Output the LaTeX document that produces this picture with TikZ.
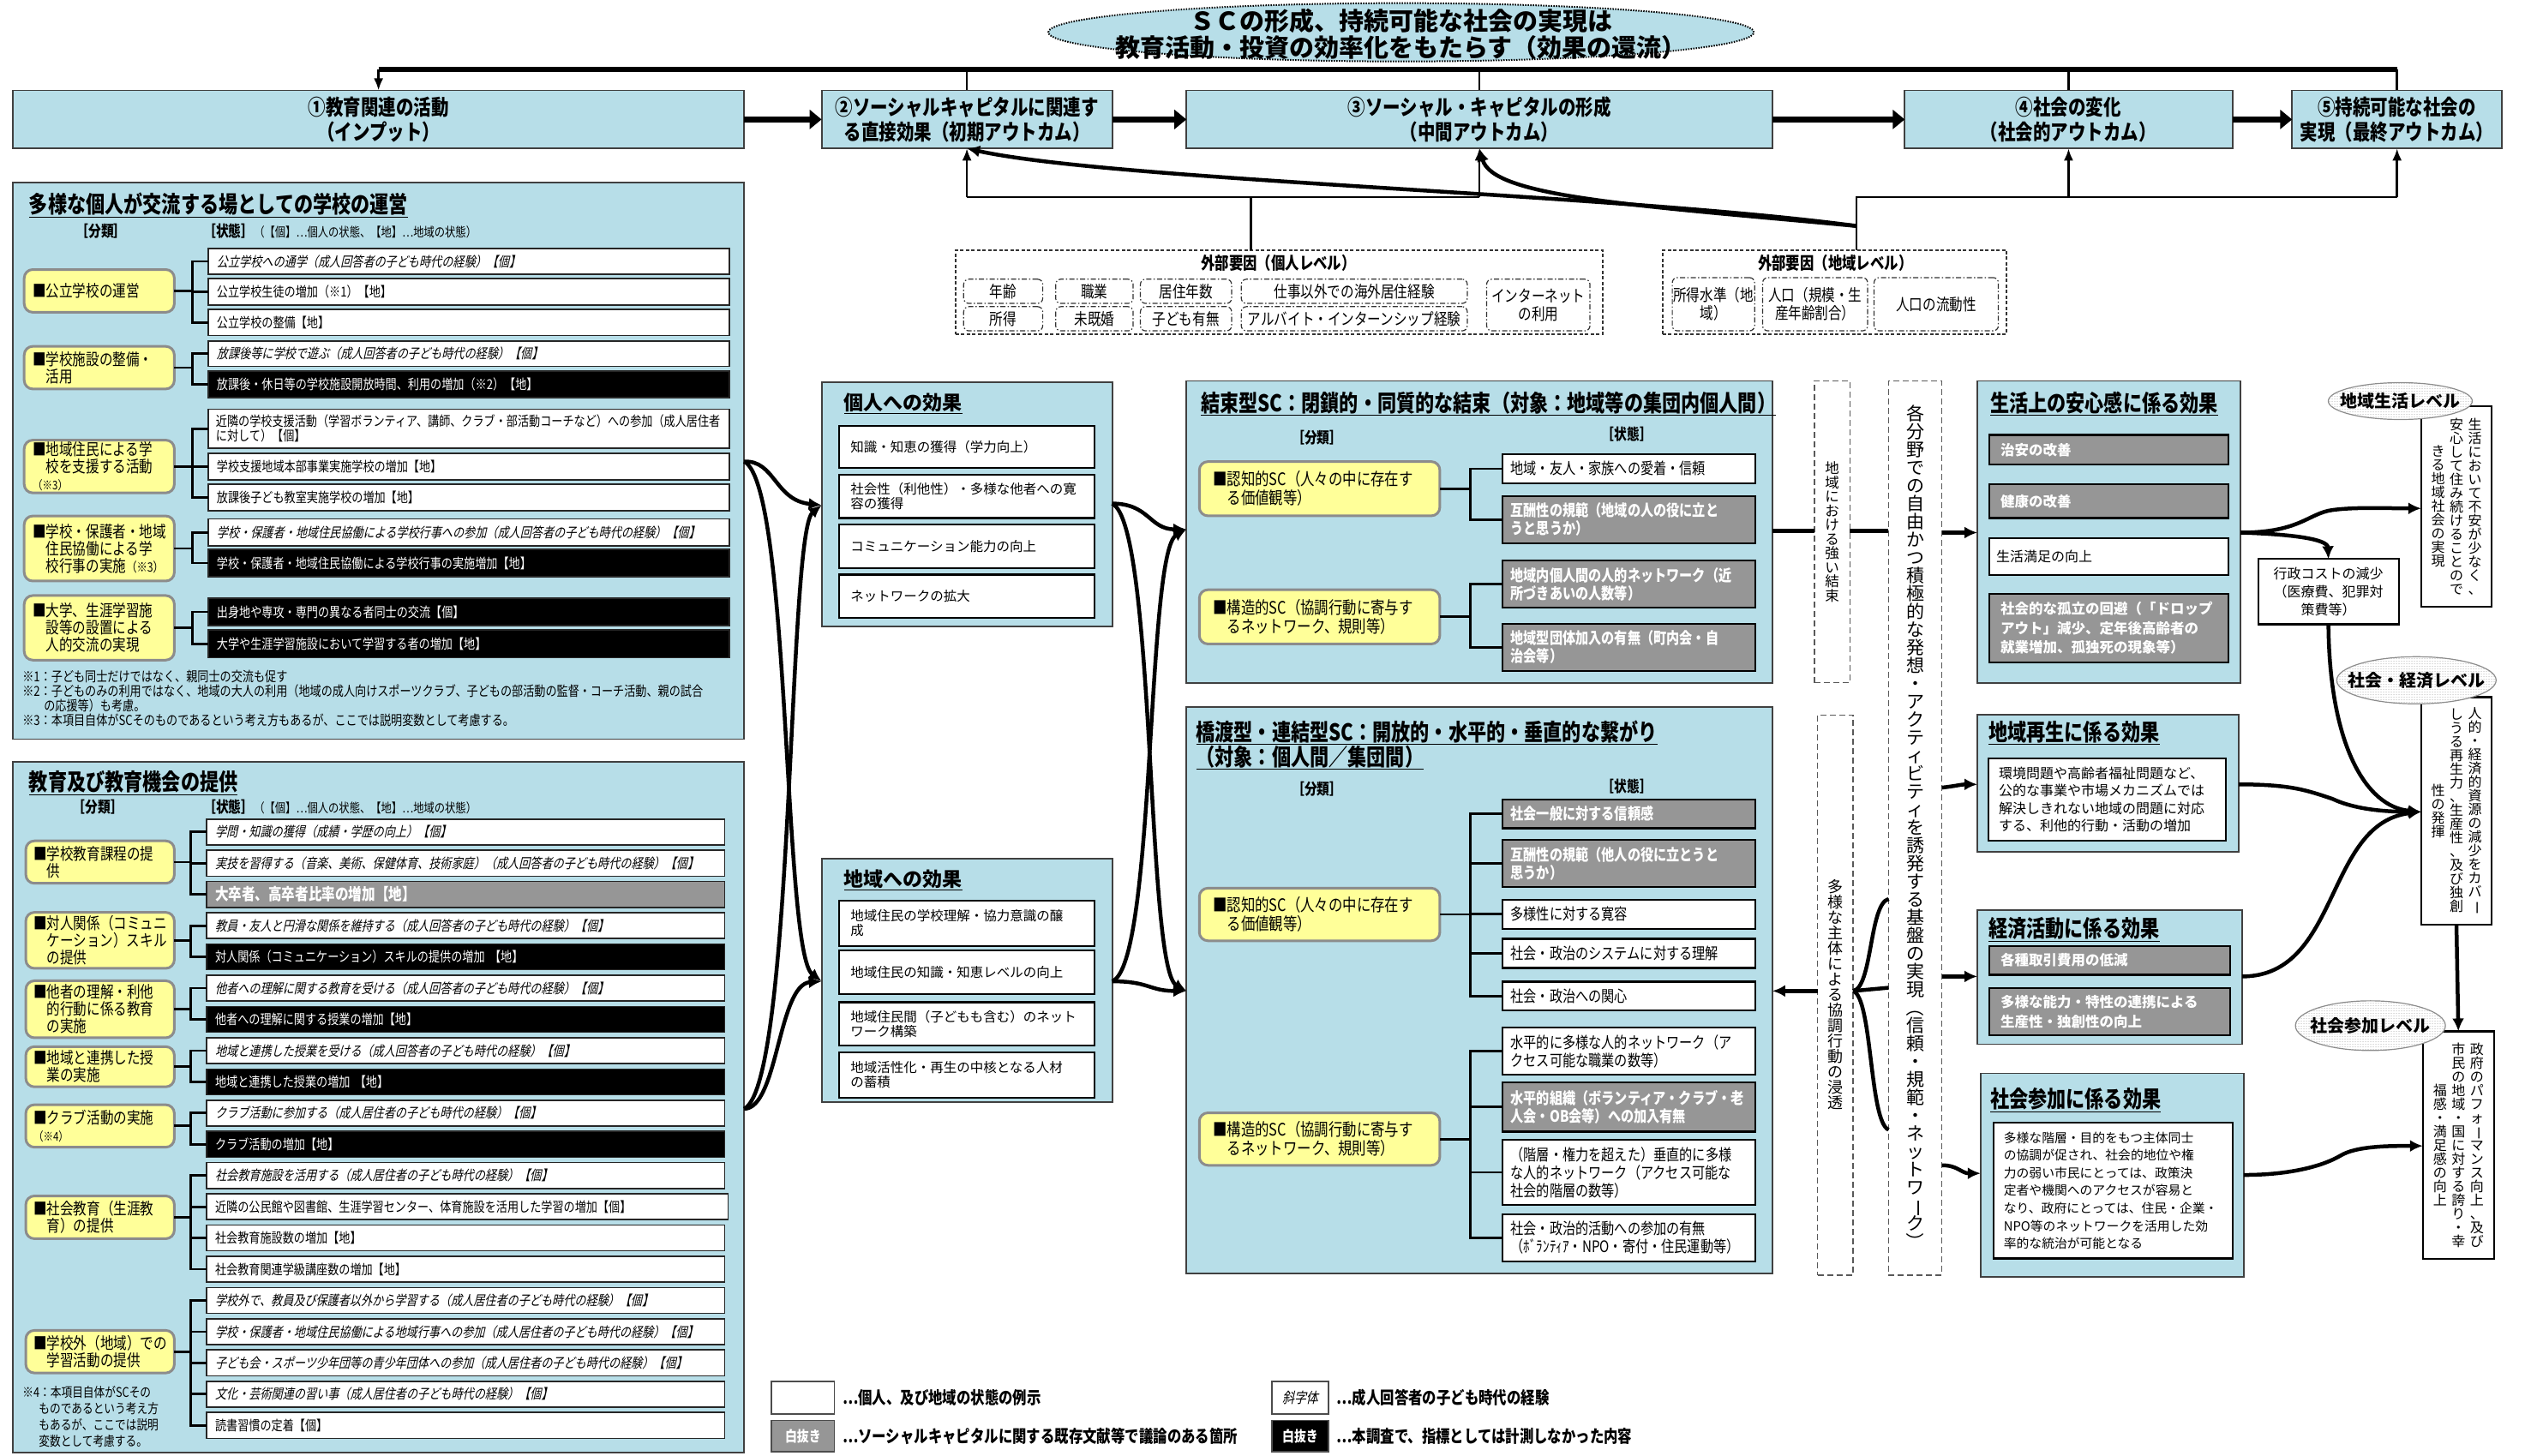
\documentclass[tikz,border=0pt]{standalone}
\usepackage{fontspec}
\usepackage{graphicx}
\setmainfont{Noto Sans CJK JP}
\newfontfamily\nar{Noto Sans CJK JP}[FakeStretch=0.82,AutoFakeSlant=0.22]
\newfontfamily\wid{Noto Sans CJK JP}[AutoFakeSlant=0.22]
\usetikzlibrary{arrows.meta,shapes.geometric,patterns}
\definecolor{pblue}{RGB}{183,222,232}
\definecolor{cyel}{RGB}{255,255,153}
\definecolor{gfill}{RGB}{150,150,150}
\newcommand\fz[2]{\fontsize{#1}{#2}\selectfont}
\ExplSyntaxOn
\cs_new_protected:Npn \my_vch:n #1
 {
  \str_case:nnF {#1}
   {
    {ー}{\rotatebox[origin=c]{-90}{ー}}
    {（}{\rotatebox[origin=c]{-90}{（}}
    {）}{\rotatebox[origin=c]{-90}{）}}
    {「}{\rotatebox[origin=c]{-90}{「}}
    {」}{\rotatebox[origin=c]{-90}{」}}
   }
   {#1}
 }
\NewDocumentCommand\vt{m}
 {
  \vbox
   {
    \baselineskip=1em \lineskip=0pt \lineskiplimit=-100pt
    \tl_map_inline:nn {#1} { \hbox~to~1em { \hss \my_vch:n {##1} \hss } }
   }
 }
\ExplSyntaxOff
\newcommand\bxc[7]{%
 \pgfmathsetmacro\bxw{(#5-#3)*1.8833}%
 \pgfmathsetmacro\bxh{(#6-#4)*1.8833}%
 \node[#2, anchor=north west, minimum width=\bxw pt, minimum height=\bxh pt, align=center] (#1) at (#3,#4) {#7};}
\newcommand\bxl[8][8]{%
 \pgfmathsetmacro\bxw{(#6-#4)*1.8833}%
 \pgfmathsetmacro\bxh{(#7-#5)*1.8833}%
 \pgfmathsetmacro\bxt{\bxw-2*#1}%
 \node[#3, anchor=north west, inner xsep=#1pt, inner ysep=0pt, minimum width=\bxw pt, minimum height=\bxh pt, text width=\bxt pt, align=left] (#2) at (#4,#5) {#8};}
\tikzset{
 every node/.style={inner sep=0pt, outer sep=0pt},
 panel/.style={draw=black!75, fill=pblue, line width=1.8pt},
 ptitle/.style={anchor=west, font=\nar\bfseries\fz{27}{29}},
 mtitle/.style={anchor=west, font=\wid\bfseries\fz{23}{26}},
 hd/.style={font=\nar\bfseries\fz{18}{20}},
 topbox/.style={panel, font=\nar\bfseries\fz{25}{29}},
 catb/.style={draw=black!45, fill=cyel, rounded corners=10pt, line width=3pt, font=\nar\fz{19}{20}},
 catc/.style={draw=black!45, fill=cyel, rounded corners=10pt, line width=3pt, font=\nar\fz{20}{22}},
 sw/.style={draw=black!85, fill=white, line width=1.6pt, font=\nar\fz{16}{17.5}},
 si/.style={sw, font=\nar\itshape\fz{16}{17.5}},
 sb/.style={draw=black!85, fill=black, text=white, line width=1.6pt, font=\nar\fz{16}{17.5}},
 sg/.style={draw=black!85, fill=gfill, text=white, line width=1.6pt, font=\nar\bfseries\fz{19}{21}},
 scw/.style={draw=black, fill=white, line width=2.2pt, font=\nar\fz{18.5}{21}},
 scg/.style={draw=black, fill=gfill, text=white, line width=2.2pt, font=\nar\bfseries\fz{18.5}{21}},
 mw/.style={draw=black, fill=white, line width=2.2pt, font=\wid\fz{15.5}{16.5}},
 rw/.style={draw=black, fill=white, line width=2.2pt, font=\wid\fz{16}{20.5}},
 rwp/.style={draw=black, fill=white, line width=2.2pt, font=\wid\fz{14.8}{20.6}},
 rwc/.style={draw=black, fill=white, line width=2.2pt, font=\wid\fz{16}{21}},
 rg/.style={draw=black, fill=gfill, text=white, line width=2.2pt, font=\wid\bfseries\fz{16.5}{22.5}},
 vbox/.style={draw=black, fill=white, line width=2.2pt},
 dsh/.style={draw=black!65, dash pattern=on 7pt off 4pt, line width=1.5pt},
 exo/.style={draw=black!80, dash pattern=on 4pt off 2.5pt, line width=1.4pt},
 exbox/.style={draw=black!80, dash pattern=on 6pt off 2.5pt on 1.5pt off 2.5pt, line width=1.2pt, rounded corners=6pt, font=\nar\fz{19}{21}},
 brk/.style={line width=2.8pt},
 cln/.style={line width=4.5pt},
 carr/.style={line width=4.5pt, -{Latex[length=15pt,width=14pt]}},
 bigarr/.style={line width=7pt, -{Triangle[length=14pt,width=22pt]}},
 vln/.style={line width=2.5pt},
 varr/.style={line width=2.5pt, -{Latex[length=14pt,width=11pt]}},
 hln/.style={line width=6pt},
 lvl/.style={ellipse, draw=black!45, line width=1.2pt, preaction={fill=white}, pattern=dots, pattern color=black!40},
 lvt/.style={font=\wid\bfseries\fz{20}{22}},
 lgt/.style={anchor=west, font=\nar\bfseries\fz{20}{22}},
 lgw/.style={draw=black!70, fill=white, line width=1.5pt, font=\nar\fz{17}{19}},
 lgg/.style={draw=black!70, fill=gfill, text=white, line width=1.5pt, font=\nar\bfseries\fz{17}{19}},
 lgb/.style={draw=black!70, fill=black, text=white, line width=1.5pt, font=\nar\bfseries\fz{17}{19}},
 vtx/.style={font=\wid\fz{16}{16}},
}
\begin{document}
\begin{tikzpicture}[x=1.8833pt,y=-1.8833pt]
\useasboundingbox (0,0) rectangle (1568,902);
% ===== title ellipse
\node[ellipse, draw=black, fill=pblue, dash pattern=on 1.5pt off 1.5pt, line width=2pt, minimum width=823pt, minimum height=68pt] (tt) at (868,20) {};
\node[font=\wid\bfseries\fz{29}{31}, align=center] (ttx) at (868,21) {ＳＣの形成、持続可能な社会の実現は\\教育活動・投資の効率化をもたらす（効果の還流）};
% ===== top row
\bxc{b1}{topbox}{8}{56}{461}{92}{①教育関連の活動\\（インプット）}
\bxc{b2}{topbox}{509}{56}{689}{92}{②ソーシャルキャピタルに関連す\\る直接効果（初期アウトカム）}
\bxc{b3}{topbox}{735}{56}{1098}{92}{③ソーシャル・キャピタルの形成\\（中間アウトカム）}
\bxc{b4}{topbox}{1180}{56}{1383}{92}{④社会の変化\\（社会的アウトカム）}
\bxc{b5}{topbox}{1420}{56}{1550}{92}{⑤持続可能な社会の\\実現（最終アウトカム）}
\draw[bigarr] (b1) -- (b2);
\draw[bigarr] (b2) -- (b3);
\draw[bigarr] (b3) -- (b4);
\draw[bigarr] (b4) -- (b5);
\coordinate (hl) at (b1.north |- 0,43);
\coordinate (hr) at (b5.north |- 0,43);
\draw[hln] (hl) -- (hr);
\draw[varr] (hl) -- (b1.north);
\foreach \b in {b2,b3,b4,b5} \draw[vln] (\b.north) -- (\b.north |- hl);
% ===== external factors
\bxc{exi}{exo}{592}{155}{993}{207}{}
\node[font=\nar\bfseries\fz{20}{22}] (exit) at (792,163) {外部要因（個人レベル）};
\bxc{fa}{exbox}{597}{173}{646}{188}{年齢}
\bxc{fb}{exbox}{654}{173}{702}{188}{職業}
\bxc{fc}{exbox}{706.5}{173}{763}{188}{居住年数}
\bxc{fd}{exbox}{769}{173}{909}{188}{仕事以外での海外居住経験}
\bxc{fe}{exbox}{597}{190}{646}{205}{所得}
\bxc{ff}{exbox}{654}{190}{702}{205}{未既婚}
\bxc{fg}{exbox}{706.5}{190}{763}{205}{子ども有無}
\bxc{fh}{exbox}{769}{190}{909}{205}{アルバイト・インターンシップ経験}
\bxc{fi}{exbox}{921}{173}{985}{205}{インターネット\\の利用}
\bxc{exr}{exo}{1030}{155}{1243}{207}{}
\node[font=\nar\bfseries\fz{20}{22}] (exrt) at (1137,163) {外部要因（地域レベル）};
\bxc{ga}{exbox}{1036}{172}{1087}{205}{所得水準（地\\域）}
\bxc{gb}{exbox}{1092}{172}{1157}{205}{人口（規模・生\\産年齢割合）}
\bxc{gc}{exbox}{1161}{172}{1238}{205}{人口の流動性}
\coordinate (jl) at (775,122);
\draw[vln] (exi.north -| jl) -- (jl);
\draw[vln] (b2.south |- jl) -- (b3.south |- jl);
\draw[varr] (b2.south |- jl) -- (b2.south);
\draw[varr] (b3.south |- jl) -- (b3.south);
\coordinate (jr) at (1150,122);
\draw[vln] (exr.north -| jr) -- (jr) -- (b5.south |- jr);
\draw[varr] (b4.south |- jr) -- (b4.south);
\draw[varr] (b5.south |- jr) -- (b5.south);
\coordinate (jc) at (1150,140);
\draw[carr] (jc) .. controls (1000,120) and (690,112) .. (b2.south);
\draw[carr] (jc) .. controls (1010,127) and (925,122) .. (b3.south);
% ===== left panel 1
\bxc{p1}{panel}{8}{113}{461}{458}{}
\node[ptitle] (p1t) at (18,127) {\underline{多様な個人が交流する場としての学校の運営}};
\node[hd, anchor=west] (p1h) at (47,143) {［分類］};
\node[anchor=west, font=\nar\fz{15}{17}] (p1s) at (126,143) {{\bfseries\fz{18}{20}［状態］}（【個】…個人の状態、【地】…地域の状態）};
\bxl[10]{a1}{si}{129}{154}{452}{170}{公立学校への通学（成人回答者の子ども時代の経験）【個】}
\bxl[10]{a2}{sw}{129}{172.7}{452}{189}{公立学校生徒の増加（※1）【地】}
\bxl[10]{a3}{sw}{129}{191.7}{452}{207.8}{公立学校の整備【地】}
\bxl[10]{a4}{si}{129}{211.2}{452}{227}{放課後等に学校で遊ぶ（成人回答者の子ども時代の経験）【個】}
\bxl[10]{a5}{sb}{129}{229.8}{452}{246.3}{放課後・休日等の学校施設開放時間、利用の増加（※2）【地】}
\bxl[9]{a6}{sw}{129}{253.5}{452}{277.6}{近隣の学校支援活動（学習ボランティア、講師、クラブ・部活動コーチなど）への参加（成人居住者\\に対して）【個】}
\bxl[10]{a7}{sw}{129}{281}{452}{297.5}{学校支援地域本部事業実施学校の増加【地】}
\bxl[10]{a8}{sw}{129}{300}{452}{316.6}{放課後子ども教室実施学校の増加【地】}
\bxl[10]{a9}{si}{129}{321.5}{452}{338.3}{学校・保護者・地域住民協働による学校行事への参加（成人回答者の子ども時代の経験）【個】}
\bxl[10]{a10}{sb}{129}{340.5}{452}{357.3}{学校・保護者・地域住民協働による学校行事の実施増加【地】}
\bxl[10]{a11}{sb}{129}{370.7}{452}{387.5}{出身地や専攻・専門の異なる者同士の交流【個】}
\bxl[10]{a12}{sb}{129}{390.4}{452}{407.6}{大学や生涯学習施設において学習する者の増加【地】}
\bxl[10]{c1}{catb}{15}{167}{108}{193.5}{■公立学校の運営}
\bxl[10]{c2}{catb}{15}{214.6}{108}{241}{■学校施設の整備・\\\phantom{■}活用}
\bxl[10]{c3}{catb}{15}{272.7}{108}{305.4}{■地域住民による学\\\phantom{■}校を支援する活動\\{\fz{14}{16}（※3）}}
\bxl[10]{c4}{catb}{15}{319.7}{108}{360}{■学校・保護者・地域\\\phantom{■}住民協働による学\\\phantom{■}校行事の実施{\fz{15}{17}（※3）}}
\bxl[10]{c5}{catb}{15}{369}{108}{409}{■大学、生涯学習施\\\phantom{■}設等の設置による\\\phantom{■}人的交流の実現}
\foreach \i in {a1,a2,a3} \draw[brk] (\i.west) -- ++(-10,0) |- (c1.east);
\foreach \i in {a4,a5} \draw[brk] (\i.west) -- ++(-10,0) |- (c2.east);
\foreach \i in {a6,a7,a8} \draw[brk] (\i.west) -- ++(-10,0) |- (c3.east);
\foreach \i in {a9,a10} \draw[brk] (\i.west) -- ++(-10,0) |- (c4.east);
\foreach \i in {a11,a12} \draw[brk] (\i.west) -- ++(-10,0) |- (c5.east);
\node[anchor=north west, align=left, font=\nar\fz{16}{17}] (fn1) at (14,415) {※1：子ども同士だけではなく、親同士の交流も促す\\※2：子どものみの利用ではなく、地域の大人の利用（地域の成人向けスポーツクラブ、子どもの部活動の監督・コーチ活動、親の試合\\\hspace*{25pt}の応援等）も考慮。\\※3：本項目自体がSCそのものであるという考え方もあるが、ここでは説明変数として考慮する。};
% ===== left panel 2
\bxc{p2}{panel}{8}{472}{461}{900}{}
\node[ptitle] (p2t) at (18,485) {\underline{教育及び教育機会の提供}};
\node[hd, anchor=west] (p2h) at (45,500) {［分類］};
\node[anchor=west, font=\nar\fz{15}{17}] (p2s) at (126,500) {{\bfseries\fz{18}{20}［状態］}（【個】…個人の状態、【地】…地域の状態）};
\bxl[10]{e0}{si}{128}{507.5}{449}{523.5}{学問・知識の獲得（成績・学歴の向上）【個】}
\bxl[10]{e1}{si}{128}{526.85}{449}{542.85}{実技を習得する（音楽、美術、保健体育、技術家庭）（成人回答者の子ども時代の経験）【個】}
\bxl[10]{e2}{sg}{128}{546.2}{449}{562.2}{大卒者、高卒者比率の増加【地】}
\bxl[10]{e3}{si}{128}{565.55}{449}{581.55}{教員・友人と円滑な関係を維持する（成人回答者の子ども時代の経験）【個】}
\bxl[10]{e4}{sb}{128}{584.9}{449}{600.9}{対人関係（コミュニケーション）スキルの提供の増加 【地】}
\bxl[10]{e5}{si}{128}{604.25}{449}{620.25}{他者への理解に関する教育を受ける（成人回答者の子ども時代の経験）【個】}
\bxl[10]{e6}{sb}{128}{623.6}{449}{639.6}{他者への理解に関する授業の増加【地】}
\bxl[10]{e7}{si}{128}{642.95}{449}{658.95}{地域と連携した授業を受ける（成人回答者の子ども時代の経験）【個】}
\bxl[10]{e8}{sb}{128}{662.3}{449}{678.3}{地域と連携した授業の増加 【地】}
\bxl[10]{e9}{si}{128}{681.65}{449}{697.65}{クラブ活動に参加する（成人居住者の子ども時代の経験）【個】}
\bxl[10]{e10}{sb}{128}{701}{449}{717}{クラブ活動の増加【地】}
\bxl[10]{e11}{si}{128}{720.35}{449}{736.35}{社会教育施設を活用する（成人居住者の子ども時代の経験）【個】}
\bxl[10]{e12}{sw}{128}{739.7}{451}{755.7}{近隣の公民館や図書館、生涯学習センター、体育施設を活用した学習の増加【個】}
\bxl[10]{e13}{sw}{128}{759.05}{449}{775.05}{社会教育施設数の増加【地】}
\bxl[10]{e14}{sw}{128}{778.4}{449}{794.4}{社会教育関連学級講座数の増加【地】}
\bxl[10]{e15}{si}{128}{797.75}{449}{813.75}{学校外で、教員及び保護者以外から学習する（成人居住者の子ども時代の経験）【個】}
\bxl[10]{e16}{si}{128}{817.1}{449}{833.1}{学校・保護者・地域住民協働による地域行事への参加（成人居住者の子ども時代の経験）【個】}
\bxl[10]{e17}{si}{128}{836.45}{449}{852.45}{子ども会・スポーツ少年団等の青少年団体への参加（成人居住者の子ども時代の経験）【個】}
\bxl[10]{e18}{si}{128}{855.8}{449}{871.8}{文化・芸術関連の習い事（成人居住者の子ども時代の経験）【個】}
\bxl[10]{e19}{sw}{128}{875.15}{449}{891.15}{読書習慣の定着【個】}
\bxl[9]{d1}{catb}{16}{521}{108}{547.3}{■学校教育課程の提\\\phantom{■}供}
\bxl[9]{d2}{catb}{16}{565.3}{108}{600}{■対人関係（コミュニ\\\phantom{■}ケーション）スキル\\\phantom{■}の提供}
\bxl[9]{d3}{catb}{16}{607.7}{108}{643}{■他者の理解・利他\\\phantom{■}的行動に係る教育\\\phantom{■}の実施}
\bxl[9]{d4}{catb}{16}{648.5}{108}{673.4}{■地域と連携した授\\\phantom{■}業の実施}
\bxl[9]{d5}{catb}{16}{684.5}{108}{710.8}{■クラブ活動の実施\\{\fz{14}{16}（※4）}}
\bxl[9]{d6}{catb}{16}{741}{108}{767.5}{■社会教育（生涯教\\\phantom{■}育）の提供}
\bxl[9]{d7}{catb}{16}{824.3}{108}{850.7}{■学校外（地域）での\\\phantom{■}学習活動の提供}
\foreach \i in {e0,e1,e2} \draw[brk] (\i.west) -- ++(-10,0) |- (d1.east);
\foreach \i in {e3,e4} \draw[brk] (\i.west) -- ++(-10,0) |- (d2.east);
\foreach \i in {e5,e6} \draw[brk] (\i.west) -- ++(-10,0) |- (d3.east);
\foreach \i in {e7,e8} \draw[brk] (\i.west) -- ++(-10,0) |- (d4.east);
\foreach \i in {e9,e10} \draw[brk] (\i.west) -- ++(-10,0) |- (d5.east);
\foreach \i in {e11,e12,e13,e14} \draw[brk] (\i.west) -- ++(-10,0) |- (d6.east);
\foreach \i in {e15,e16,e17,e18,e19} \draw[brk] (\i.west) -- ++(-10,0) |- (d7.east);
\node[anchor=north west, align=left, font=\nar\fz{15.5}{19}] (fn4) at (14,859) {※4：本項目自体がSCその\\\hspace*{19pt}ものであるという考え方\\\hspace*{19pt}もあるが、ここでは説明\\\hspace*{19pt}変数として考慮する。};
% ===== middle effects
\bxc{ind}{panel}{509}{237}{689}{388}{}
\node[mtitle] (indt) at (523,250) {\underline{個人への効果}};
\bxl[13]{n1}{mw}{520}{264}{678}{290}{知識・知恵の獲得（学力向上）}
\bxl[13]{n2}{mw}{520}{294}{678}{321}{社会性（利他性）・多様な他者への寛\\容の獲得}
\bxl[13]{n3}{mw}{520}{325}{678}{352}{コミュニケーション能力の向上}
\bxl[13]{n4}{mw}{520}{356}{678}{383}{ネットワークの拡大}
\bxc{reg}{panel}{509}{532}{689}{683}{}
\node[mtitle] (regt) at (523,545) {\underline{地域への効果}};
\bxl[13]{m1}{mw}{520}{558}{678}{586}{地域住民の学校理解・協力意識の醸\\成}
\bxl[13]{m2}{mw}{520}{589}{678}{616}{地域住民の知識・知恵レベルの向上}
\bxl[13]{m3}{mw}{520}{621}{678}{648}{地域住民間（子どもも含む）のネット\\ワーク構築}
\bxl[13]{m4}{mw}{520}{652}{678}{680}{地域活性化・再生の中核となる人材\\の蓄積}
% ===== bonding SC
\bxc{bond}{panel}{735}{236}{1098}{423}{}
\node[ptitle] (bondt) at (744,250) {\underline{結束型SC：閉鎖的・同質的な結束（対象：地域等の集団内個人間）}};
\node[hd] (bondh1) at (816,271) {［分類］};
\node[hd] (bondh2) at (1008,269) {［状態］};
\bxl[16]{k1}{catc}{743}{286}{892}{319.6}{■認知的SC（人々の中に存在す\\\phantom{■}る価値観等）}
\bxl[16]{k2}{catc}{743}{365.4}{892}{399}{■構造的SC（協調行動に寄与す\\\phantom{■}るネットワーク、規則等）}
\bxl[10]{q1}{scw}{930.6}{281.4}{1087.5}{299.4}{地域・友人・家族への愛着・信頼}
\bxl[10]{q2}{scg}{930.6}{307.3}{1087.5}{336.7}{互酬性の規範（地域の人の役に立と\\うと思うか）}
\bxl[10]{q3}{scg}{930.6}{347.3}{1087.5}{376.5}{地域内個人間の人的ネットワーク（近\\所づきあいの人数等）}
\bxl[10]{q4}{scg}{930.6}{386.6}{1087.5}{415.6}{地域型団体加入の有無（町内会・自\\治会等）}
\foreach \i in {q1,q2} \draw[brk] (\i.west) -- ++(-19.6,0) |- (k1.east);
\foreach \i in {q3,q4} \draw[brk] (\i.west) -- ++(-19.6,0) |- (k2.east);
% ===== bridging SC
\bxc{brid}{panel}{735}{438}{1098}{789}{}
\node[ptitle, align=left] (bridt) at (741,461.5) {\underline{橋渡型・連結型SC：開放的・水平的・垂直的な繋がり}\\\underline{（対象：個人間／集団間）}};
\node[hd] (bridh1) at (816,489) {［分類］};
\node[hd] (bridh2) at (1008,487) {［状態］};
\bxl[16]{k3}{catc}{743}{550.3}{892}{582.9}{■認知的SC（人々の中に存在す\\\phantom{■}る価値観等）}
\bxl[16]{k4}{catc}{743}{689.5}{892}{722}{■構造的SC（協調行動に寄与す\\\phantom{■}るネットワーク、規則等）}
\bxl[10]{r1}{scg}{930.6}{495.3}{1087.5}{513.2}{社会一般に対する信頼感}
\bxl[10]{r2}{scg}{930.6}{520.4}{1087.5}{549.6}{互酬性の規範（他人の役に立とうと\\思うか）}
\bxl[10]{r3}{scw}{930.6}{557.5}{1087.5}{575.5}{多様性に対する寛容}
\bxl[10]{r4}{scw}{930.6}{581.7}{1087.5}{599.7}{社会・政治のシステムに対する理解}
\bxl[10]{r5}{scw}{930.6}{608.2}{1087.5}{626}{社会・政治への関心}
\bxl[10]{r6}{scw}{930.6}{636.8}{1087.5}{666}{水平的に多様な人的ネットワーク（ア\\クセス可能な職業の数等）}
\bxl[10]{r7}{scg}{930.6}{670.5}{1087.5}{701.2}{水平的組織（ボランティア・クラブ・老\\人会・OB会等）への加入有無}
\bxl[10]{r8}{scw}{930.6}{706.4}{1087.5}{746.4}{（階層・権力を超えた）垂直的に多様\\な人的ネットワーク（アクセス可能な\\社会的階層の数等）}
\bxl[10]{r9}{scw}{930.6}{752.4}{1087.5}{781.6}{社会・政治的活動への参加の有無\\（ﾎﾞﾗﾝﾃｨｱ・NPO・寄付・住民運動等）}
\foreach \i in {r1,r2,r3,r4,r5} \draw[brk] (\i.west) -- ++(-19.6,0) |- (k3.east);
\foreach \i in {r6,r7,r8,r9} \draw[brk] (\i.west) -- ++(-19.6,0) |- (k4.east);
% ===== vertical dashed boxes
\bxc{vs}{dsh}{1124}{236}{1146}{423}{}
\node[font=\wid\fz{16.5}{16.5}] (vst) at (vs.center) {\vt{地域における強い結束}};
\bxc{vd}{dsh}{1126}{443}{1148}{790}{}
\node[font=\wid\fz{18}{18}] (vdt) at (vd.center) {\vt{多様な主体による協調行動の浸透}};
\bxc{va}{dsh}{1170}{236}{1203}{790}{}
\node[font=\wid\fz{21}{21}] (vat) at (va.center) {\vt{各分野での自由かつ積極的な発想・アクティビティを誘発する基盤の実現（信頼・規範・ネットワーク）}};
% ===== right effects
\bxc{safe}{panel}{1225}{236}{1388}{423}{}
\node[ptitle] (safet) at (1233,250) {\underline{生活上の安心感に係る効果}};
\bxl[13]{s1}{rg}{1232.5}{269.5}{1380.6}{288}{治安の改善}
\bxl[13]{s2}{rg}{1232.5}{300}{1380.6}{321}{健康の改善}
\bxl[8]{s3}{rw}{1232.5}{333.4}{1380.6}{356.4}{生活満足の向上}
\bxl[13]{s4}{rg}{1232.5}{368}{1380.6}{410.4}{社会的な孤立の回避（「ドロップ\\アウト」減少、定年後高齢者の\\就業増加、孤独死の現象等）}
\bxc{regen}{panel}{1225}{443}{1387}{528}{}
\node[ptitle] (regent) at (1232,454) {\underline{地域再生に係る効果}};
\bxl[12]{g1}{rw}{1232}{470}{1379}{521}{環境問題や高齢者福祉問題など、\\公的な事業や市場メカニズムでは\\解決しきれない地域の問題に対応\\する、利他的行動・活動の増加}
\bxc{econ}{panel}{1225}{564}{1389}{647}{}
\node[ptitle] (econt) at (1232,576) {\underline{経済活動に係る効果}};
\bxl[13]{h1}{rg}{1232.5}{586}{1381.5}{604}{各種取引費用の低減}
\bxl[13]{h2}{rg}{1232.5}{612.4}{1381.5}{641.6}{多様な能力・特性の連携による\\生産性・独創性の向上}
\bxc{part}{panel}{1227}{665}{1390}{791}{}
\node[ptitle] (partt) at (1233,681.5) {\underline{社会参加に係る効果}};
\bxl[12]{t1}{rwp}{1235}{695.6}{1383}{779.7}{多様な階層・目的をもつ主体同士\\の協調が促され、社会的地位や権\\力の弱い市民にとっては、政策決\\定者や機関へのアクセスが容易と\\なり、政府にとっては、住民・企業・\\NPO等のネットワークを活用した効\\率的な統治が可能となる}
\bxc{cost}{rwc}{1399}{346.4}{1486}{386.8}{行政コストの減少\\（医療費、犯罪対\\策費等）}
\bxc{lv1}{vbox}{1500}{251.7}{1543.6}{376}{}
\node[vtx] (lv1t) at (lv1.center) {$\vcenter{\vt{きる地域社会の実現}}\hskip5.5pt\vcenter{\vt{安心して住み続けることので}}\hskip5.5pt\vcenter{\vt{生活において不安が少なく、}}$};
\bxc{lv2}{vbox}{1500}{432}{1543.6}{573}{}
\node[vtx] (lv2t) at (lv2.center) {$\vcenter{\vt{性の発揮}}\hskip5.5pt\vcenter{\vt{しうる再生力、生産性、及び独創}}\hskip5.5pt\vcenter{\vt{人的・経済的資源の減少をカバー}}$};
\bxc{lv3}{vbox}{1501}{639}{1545}{780}{}
\node[vtx] (lv3t) at (lv3.center) {$\vcenter{\vt{福感・満足感の向上}}\hskip5.5pt\vcenter{\vt{市民の地域・国に対する誇り・幸}}\hskip5.5pt\vcenter{\vt{政府のパフォーマンス向上、及び}}$};
\node[lvl, minimum width=168pt, minimum height=43pt] (e1) at (1487,248.5) {};
\node[lvt] (e1t) at (e1) {地域生活レベル};
\node[lvl, minimum width=186pt, minimum height=55pt] (e2) at (1497,421.5) {};
\node[lvt] (e2t) at (e2) {社会・経済レベル};
\node[lvl, minimum width=175pt, minimum height=58pt] (e3) at (1468.5,635.5) {};
\node[lvt] (e3t) at (e3) {社会参加レベル};
% ===== legend
\bxc{lg1}{lgw}{478}{856}{517}{876}{}
\node[lgt] (lg1t) at (522,866) {…個人、及び地域の状態の例示};
\bxc{lg2}{lgg}{478}{880}{517}{899.5}{白抜き}
\node[lgt] (lg2t) at (522,890) {…ソーシャルキャピタルに関する既存文献等で議論のある箇所};
\bxc{lg3}{lgw}{788}{856}{823}{876}{\itshape 斜字体}
\node[lgt] (lg3t) at (828,866) {…成人回答者の子ども時代の経験};
\bxc{lg4}{lgb}{788}{880}{823}{899.5}{白抜き}
\node[lgt] (lg4t) at (828,890) {…本調査で、指標としては計測しなかった内容};
% ===== connectors left -> middle
\draw[carr] (p1.east |- 0,286) .. controls (480,285) and (480,310) .. (ind.west |- 0,313);
\draw[carr] (p1.east |- 0,286) .. controls (490,300) and (485,590) .. (reg.west |- 0,608);
\draw[carr] (p2.east |- 0,687) .. controls (492,672) and (488,330) .. (ind.west |- 0,313);
\draw[carr] (p2.east |- 0,687) .. controls (482,687) and (482,610) .. (reg.west |- 0,608);
% middle -> SC
\draw[carr] (ind.east |- 0,312) .. controls (712,312) and (712,328) .. (bond.west |- 0,328);
\draw[carr] (ind.east |- 0,312) .. controls (716,325) and (710,600) .. (brid.west |- 0,614);
\draw[carr] (reg.east |- 0,608) .. controls (716,598) and (710,342) .. (bond.west |- 0,328);
\draw[carr] (reg.east |- 0,608) .. controls (712,608) and (712,614) .. (brid.west |- 0,614);
% SC -> vertical boxes
\draw[cln] (bond.east |- 0,329) -- (vs.west |- 0,329);
\draw[cln] (vs.east |- 0,329) -- (va.west |- 0,329);
\draw[carr] (va.east |- 0,330) -- (safe.west |- 0,330);
\draw[carr] (vd.west |- 0,614) -- (brid.east |- 0,614);
\draw[cln] (vd.east |- 0,614) .. controls (1160,612) and (1158,560) .. (va.west |- 0,557);
\draw[cln] (vd.east |- 0,614) -- (va.west |- 0,612);
\draw[cln] (vd.east |- 0,614) .. controls (1160,618) and (1158,695) .. (va.west |- 0,700);
\draw[carr] (va.east |- 0,488) .. controls (1212,487) and (1215,486) .. (regen.west |- 0,486);
\draw[carr] (va.east |- 0,605) -- (econ.west |- 0,605);
\draw[carr] (va.east |- 0,722) .. controls (1213,722) and (1215,727) .. (part.west |- 0,727);
% right arrows
\draw[carr] (safe.east |- 0,330) .. controls (1425,330) and (1430,318) .. (1445,316) .. controls (1460,314) and (1480,315) .. (lv1.west |- 0,315);
\draw[carr] (safe.east |- 0,330) .. controls (1420,331) and (1442,334) .. (cost.north);
\draw[carr] (cost.south) .. controls (1443,460) and (1465,500) .. (lv2.west |- 0,503);
\draw[carr] (regen.east |- 0,486) .. controls (1420,486) and (1430,490) .. (1445,495) .. controls (1460,502) and (1480,503) .. (lv2.west |- 0,503);
\draw[carr] (econ.east |- 0,605) .. controls (1450,605) and (1440,510) .. (lv2.west |- 0,503);
\draw[carr] (lv2.south) -- (lv3.north);
\draw[carr] (part.east |- 0,728) .. controls (1420,728) and (1440,722) .. (1450,716) .. controls (1460,710) and (1480,710) .. (lv3.west |- 0,710);
\end{tikzpicture}
\end{document}
